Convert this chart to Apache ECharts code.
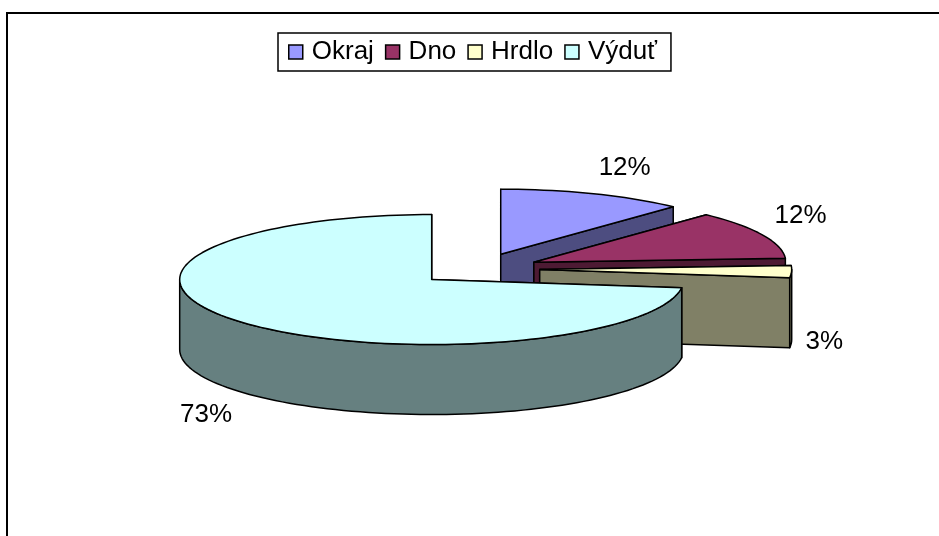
<!DOCTYPE html>
<html>
<head>
<meta charset="utf-8">
<script src="https://cdn.jsdelivr.net/npm/echarts@6/dist/echarts.min.js"></script>
<style>
    html, body { margin: 0; padding: 0; background: #fff; }
    #chart { width: 939px; height: 536px; }
</style>
</head>
<body>
<div id="chart"></div>
<script>
    const categories = ['Okraj', 'Dno', 'Hrdlo', 'Výduť'];
    const values = [12, 12, 3, 73];
    const topColors = ['#9999FF', '#993366', '#FFFFCC', '#CCFFFF'];
    const sideColors = ['#4D4D80', '#4D1A33', '#808066', '#668080'];

    const total = values.reduce((a, b) => a + b, 0);
    // pie layout (ellipse = tilted disc)
    const cx = 478, cy = 269, rx = 252, ry = 65, depth = 70, explode = 0.245;
    const rad = Math.PI / 180;
    const font = '"Liberation Sans", Arial, sans-serif';

    function pt(c, a, dy) {
        return [c[0] + rx * Math.cos(a * rad), c[1] - ry * Math.sin(a * rad) + (dy || 0)];
    }
    function arc(c, a1, a2, dy) {
        const n = Math.max(2, Math.ceil(Math.abs(a2 - a1) / 2));
        const out = [];
        for (let k = 0; k <= n; k++) out.push(pt(c, a1 + (a2 - a1) * k / n, dy));
        return out;
    }

    function renderSlice(idx) {
        return function (params, api) {
            const v = api.value(0);
            let before = 0;
            for (let k = 0; k < idx; k++) before += values[k];
            // clockwise from 12 o'clock, like excel
            const hi = 90 - before / total * 360;
            const lo = hi - v / total * 360;
            const mid = (hi + lo) / 2;
            const cm = Math.cos(mid * rad), sm = Math.sin(mid * rad);
            const c = [cx + explode * rx * cm, cy - explode * ry * sm];
            const down = p => [p[0], p[1] + depth];
            const face = a => { const r = pt(c, a); return [c, r, down(r), down(c)]; };
            const side = { fill: sideColors[idx], stroke: '#000', lineWidth: 1.5, lineJoin: 'round' };

            const back = [], front = [];
            (Math.cos(hi * rad) < 0 ? front : back).push(face(hi));
            (Math.cos(lo * rad) > 0 ? front : back).push(face(lo));
            const children = [];
            back.concat(front).forEach(p => children.push({ type: 'polygon', shape: { points: p }, style: side }));

            // outer wall, only the half that faces us
            for (let k = -2; k <= 1; k++) {
                const s = Math.max(lo, -180 + 360 * k), e = Math.min(hi, 360 * k);
                if (e > s) {
                    const pts = arc(c, s, e).concat(arc(c, e, s, depth));
                    children.push({ type: 'polygon', shape: { points: pts }, style: side });
                }
            }
            children.push({
                type: 'polygon',
                shape: { points: [c].concat(arc(c, hi, lo)) },
                style: { fill: topColors[idx], stroke: '#000', lineWidth: 1.5, lineJoin: 'round' }
            });

            const p = pt(c, mid, sm < 0 ? depth : 0);
            children.push({
                type: 'text',
                x: p[0] + 14 * cm,
                y: p[1] - 14 * sm,
                style: {
                    text: Math.round(v / total * 100) + '%',
                    fill: '#000',
                    fontSize: 26,
                    fontFamily: font,
                    align: cm > 0.3 ? 'left' : cm < -0.3 ? 'right' : 'center',
                    verticalAlign: sm > 0.3 ? 'bottom' : sm < -0.3 ? 'top' : 'middle'
                }
            });
            return { type: 'group', children: children };
        };
    }

    const option = {
        animation: false,
        legend: {
            data: categories,
            left: 278,
            top: 33,
            padding: [6, 14, 6, 10],
            itemGap: 11,
            itemWidth: 14,
            itemHeight: 14,
            icon: 'rect',
            borderColor: '#000',
            borderWidth: 1.5,
            selectedMode: false,
            itemStyle: { borderColor: '#000', borderWidth: 1.5 },
            textStyle: { fontSize: 26, fontFamily: font, color: '#000', padding: [0, 0, 0, 4] }
        },
        graphic: [{
            type: 'rect',
            silent: true,
            shape: { x: 7, y: 13, width: 960, height: 560 },
            style: { fill: 'none', stroke: '#000', lineWidth: 2 }
        }],
        series: categories.map((name, i) => ({
            type: 'custom',
            name: name,
            coordinateSystem: 'none',
            silent: true,
            itemStyle: { color: topColors[i] },
            data: [[values[i]]],
            renderItem: renderSlice(i)
        }))
    };

    const mycharts = echarts.init(document.getElementById('chart'));
    mycharts.setOption(option);
</script>
</body>
</html>
